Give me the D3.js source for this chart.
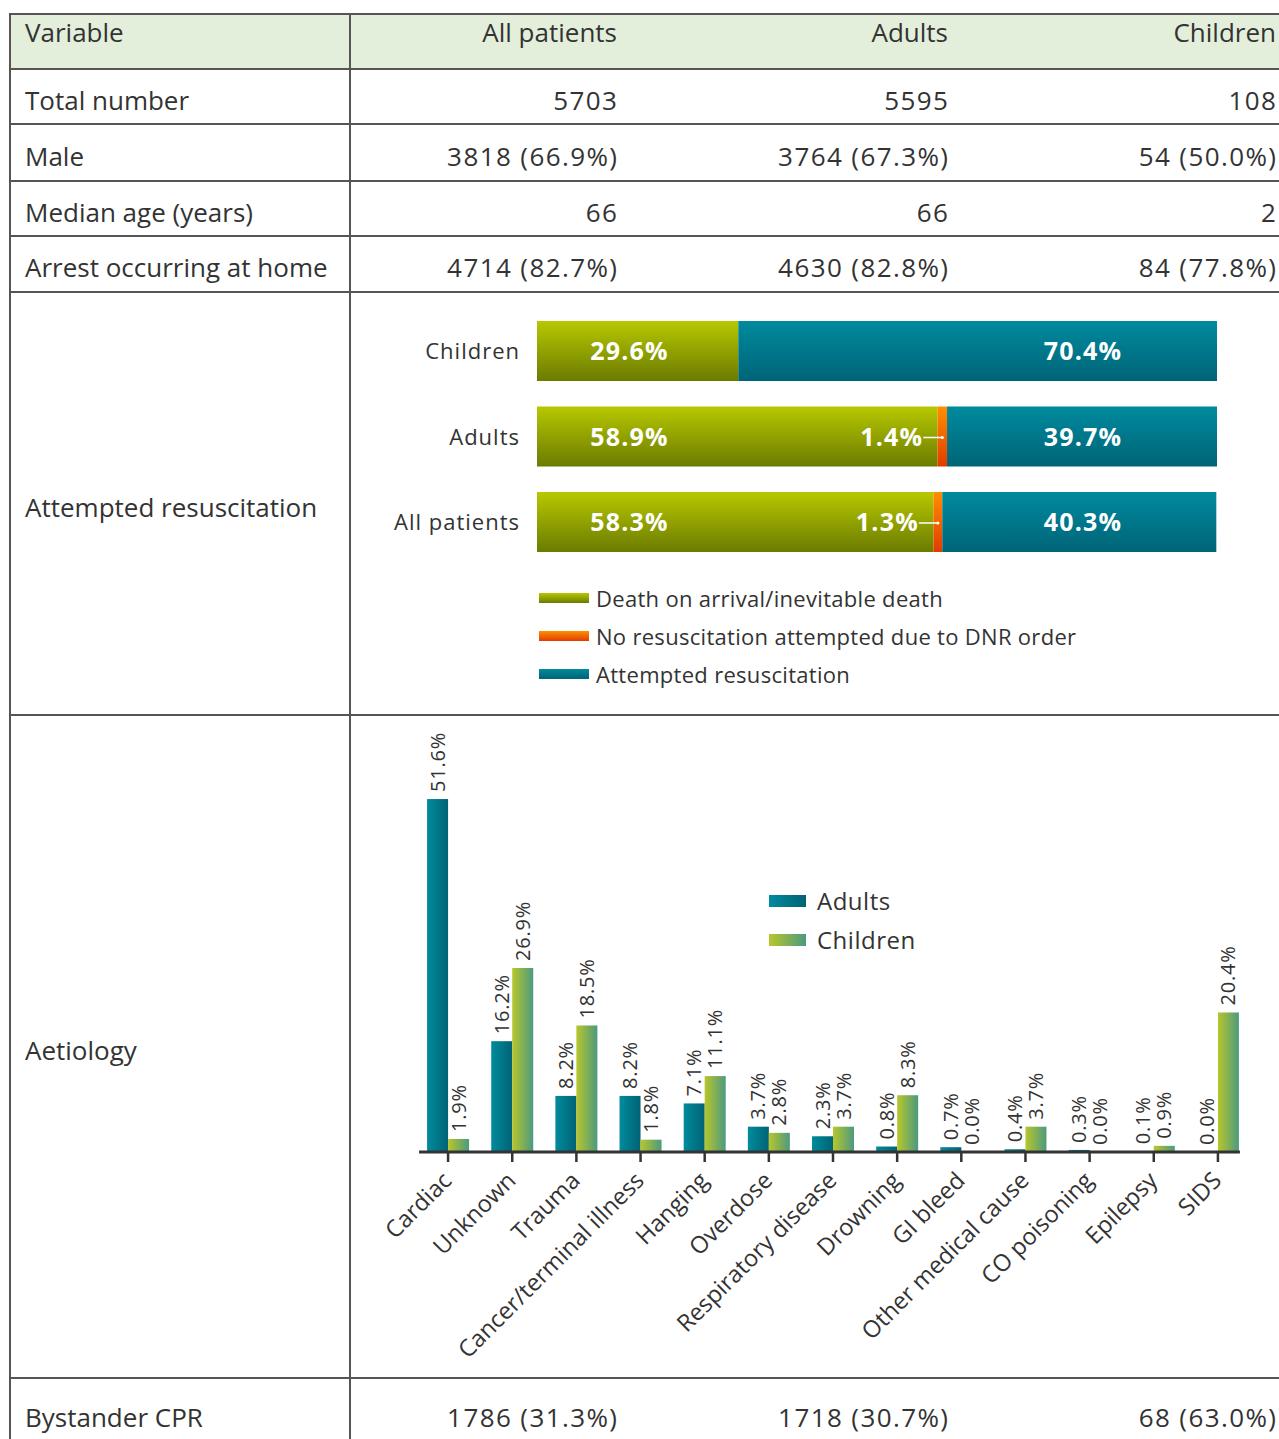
<!DOCTYPE html>
<html>
<head>
<meta charset="utf-8">
<script src="https://cdn.jsdelivr.net/npm/d3@7"></script>
<style>
  body { margin: 0; background: #fff; }
  svg { display: block; font-family: "Open Sans", "Noto Sans", sans-serif; }
</style>
</head>
<body>
<div id="chart"></div>
<script>
// table rows
const rowLabels = ["Total number", "Male", "Median age (years)", "Arrest occurring at home"];
const colHeaders = ["Variable", "All patients", "Adults", "Children"];
const allPatientsCol = ["5703", "3818 (66.9%)", "66", "4714 (82.7%)"];
const adultsCol = ["5595", "3764 (67.3%)", "66", "4630 (82.8%)"];
const childrenCol = ["108", "54 (50.0%)", "2", "84 (77.8%)"];
const cprRow = ["Bystander CPR", "1786 (31.3%)", "1718 (30.7%)", "68 (63.0%)"];

// attempted resuscitation (stacked)
const stackGroups = ["Children", "Adults", "All patients"];
const deathOnArrival = [29.6, 58.9, 58.3];
const dnrOrder = [0, 1.4, 1.3];
const attemptedResus = [70.4, 39.7, 40.3];
const stackKeys = ["Death on arrival/inevitable death", "No resuscitation attempted due to DNR order", "Attempted resuscitation"];

// aetiology
const causes = ["Cardiac", "Unknown", "Trauma", "Cancer/terminal illness", "Hanging", "Overdose",
  "Respiratory disease", "Drowning", "GI bleed", "Other medical cause", "CO poisoning", "Epilepsy", "SIDS"];
const adultPct = [51.6, 16.2, 8.2, 8.2, 7.1, 3.7, 2.3, 0.8, 0.7, 0.4, 0.3, 0.1, 0.0];
const childPct = [1.9, 26.9, 18.5, 1.8, 11.1, 2.8, 3.7, 8.3, 0.0, 3.7, 0.0, 0.9, 20.4];

const width = 1279, height = 1439;
const ink = "#333";
const lineCol = "#555";

const svg = d3.select("#chart").append("svg")
  .attr("width", width)
  .attr("height", height);

const defs = svg.append("defs");
function grad(id, x2, y2, c1, c2) {
  const g = defs.append("linearGradient").attr("id", id)
    .attr("x1", 0).attr("y1", 0).attr("x2", x2).attr("y2", y2);
  g.append("stop").attr("offset", "0%").attr("stop-color", c1);
  g.append("stop").attr("offset", "100%").attr("stop-color", c2);
}
grad("gGreen", 0, 1, "#b7c800", "#6b7b00");
grad("gOrange", 0, 1, "#ff8f00", "#e03c00");
grad("gTeal", 0, 1, "#008a9e", "#006477");
grad("hAdult", 1, 0, "#008b9d", "#006374");
grad("hChild", 1, 0, "#b8c62a", "#4b9a80");

// table skeleton
const tableLeft = 10, colDiv = 350;
const rowLines = [14, 69, 124, 181, 236, 292, 715, 1378];

svg.append("rect")
  .attr("x", tableLeft).attr("y", 14)
  .attr("width", width - tableLeft).attr("height", 55)
  .attr("fill", "#e3efdb");

svg.selectAll("line.row").data(rowLines).join("line")
  .attr("x1", tableLeft).attr("x2", width)
  .attr("y1", d => d).attr("y2", d => d)
  .attr("stroke", lineCol).attr("stroke-width", 2);

[tableLeft, colDiv].forEach(x => {
  svg.append("line")
    .attr("x1", x).attr("x2", x)
    .attr("y1", 13).attr("y2", height)
    .attr("stroke", lineCol).attr("stroke-width", 2);
});

const colRight = [617, 948, 1276];
const textSize = "26px";

function tableRow(cells, baseline, spacing) {
  svg.append("text")
    .attr("x", 25).attr("y", baseline)
    .attr("font-size", textSize).attr("fill", ink)
    .text(cells[0]);
  cells.slice(1).forEach((c, i) => {
    svg.append("text")
      .attr("x", colRight[i] + spacing).attr("y", baseline)
      .attr("text-anchor", "end")
      .attr("font-size", textSize).attr("letter-spacing", spacing + "px").attr("fill", ink)
      .text(c);
  });
}

tableRow(colHeaders, 42, 0);
const rowBase = [110, 166, 222, 277];
rowLabels.forEach((r, i) => {
  tableRow([r, allPatientsCol[i], adultsCol[i], childrenCol[i]], rowBase[i], 1.4);
});
tableRow(cprRow, 1427, 1.4);

svg.append("text").attr("x", 25).attr("y", 517)
  .attr("font-size", textSize).attr("fill", ink).text("Attempted resuscitation");
svg.append("text").attr("x", 25).attr("y", 1060)
  .attr("font-size", textSize).attr("fill", ink).text("Aetiology");

// ---- stacked bars: attempted resuscitation
const sx = d3.scaleLinear().domain([0, 100]).range([537, 1217]);
const sy = d3.scaleBand().domain(stackGroups).range([321, 552]).paddingInner(0.298).paddingOuter(0);
const stackFill = ["url(#gGreen)", "url(#gOrange)", "url(#gTeal)"];

const stackRows = stackGroups.map((g, i) => ({
  group: g, vals: [deathOnArrival[i], dnrOrder[i], attemptedResus[i]]
}));

stackRows.forEach(r => {
  let acc = 0;
  const y0 = sy(r.group), bh = sy.bandwidth();
  r.vals.forEach((v, k) => {
    if (v > 0) {
      svg.append("rect")
        .attr("x", sx(acc)).attr("y", y0)
        .attr("width", sx(acc + v) - sx(acc)).attr("height", bh)
        .attr("fill", stackFill[k]);
    }
    acc += v;
  });

  svg.append("text")
    .attr("x", 520).attr("y", y0 + bh / 2 + 8)
    .attr("text-anchor", "end")
    .attr("font-size", "22px").attr("letter-spacing", "1px")
    .attr("fill", ink).text(r.group);

  const mid = y0 + bh / 2 + 9;
  const lab = (x, anchor, v) => svg.append("text")
    .attr("x", x).attr("y", mid)
    .attr("text-anchor", anchor)
    .attr("font-size", "25px").attr("font-weight", "bold").attr("letter-spacing", "1.2px")
    .attr("fill", "#fff")
    .text(v.toFixed(1) + "%");
  lab(sx(13.6), "middle", r.vals[0]);
  lab(sx(80.3), "middle", r.vals[2]);

  if (r.vals[1] > 0) {
    const ox = sx(r.vals[0] + r.vals[1] / 2);
    const ly = y0 + bh / 2 + 1;
    svg.append("line")
      .attr("x1", ox - 19).attr("x2", ox)
      .attr("y1", ly).attr("y2", ly)
      .attr("stroke", "#fff").attr("stroke-width", 1.5);
    svg.append("circle").attr("cx", ox).attr("cy", ly).attr("r", 1.6).attr("fill", "#fff");
    lab(ox - 19, "end", r.vals[1]);
  }
});

const stackLegend = svg.append("g").attr("transform", "translate(539,598)");
stackKeys.forEach((k, i) => {
  const row = stackLegend.append("g").attr("transform", "translate(0," + i * 38 + ")");
  row.append("rect").attr("x", 0).attr("y", -5).attr("width", 50).attr("height", 10)
    .attr("fill", stackFill[i]);
  row.append("text").attr("x", 57).attr("y", 9)
    .attr("font-size", "22px").attr("letter-spacing", "0.3px").attr("fill", ink).text(k);
});

// ---- aetiology grouped bars
const x0 = d3.scaleBand().domain(causes).range([416, 1250]).padding(0);
const x1 = d3.scaleBand().domain(["Adults", "Children"]).range([-21, 21]).padding(0);
const y = d3.scaleLinear().domain([0, 55]).range([1152, 1152 - 55 * 6.84]);

const barData = causes.map((c, i) => ({ cause: c, Adults: adultPct[i], Children: childPct[i] }));

const groups = svg.append("g").selectAll("g").data(barData).join("g")
  .attr("transform", d => "translate(" + (x0(d.cause) + x0.bandwidth() / 2) + ",0)");

["Adults", "Children"].forEach(key => {
  groups.append("rect")
    .attr("x", x1(key))
    .attr("y", d => y(d[key]))
    .attr("width", x1.bandwidth())
    .attr("height", d => y(0) - y(d[key]))
    .attr("fill", key === "Adults" ? "url(#hAdult)" : "url(#hChild)");

  groups.append("text")
    .attr("transform", d => {
      const cx = x1(key) + x1.bandwidth() / 2;
      return "translate(" + cx + "," + (y(d[key]) - 7) + ") rotate(-90)";
    })
    .attr("dy", "0.35em")
    .attr("font-size", "20px").attr("letter-spacing", "0.8px")
    .attr("fill", ink)
    .text(d => d[key].toFixed(1) + "%");
});

const axis = svg.append("g")
  .attr("transform", "translate(0,1152)")
  .call(d3.axisBottom(x0).tickSize(10).tickSizeOuter(0).tickFormat(""));
const firstC = x0(causes[0]) + x0.bandwidth() / 2;
const lastC = x0(causes[causes.length - 1]) + x0.bandwidth() / 2;
axis.select(".domain")
  .attr("d", "M" + (firstC - 29) + ",0H" + (lastC + 22))
  .attr("stroke", ink).attr("stroke-width", 3);
axis.selectAll(".tick line").attr("stroke", ink).attr("stroke-width", 2.5);

// slanted category labels
causes.forEach(c => {
  const cx = x0(c) + x0.bandwidth() / 2;
  svg.append("text")
    .attr("transform", "translate(" + (cx + 5) + ",1182) rotate(-45)")
    .attr("text-anchor", "end")
    .attr("font-size", "23.5px").attr("fill", ink)
    .text(c);
});

const barLegend = svg.append("g").attr("transform", "translate(769,895)");
["Adults", "Children"].forEach((k, i) => {
  const row = barLegend.append("g").attr("transform", "translate(0," + i * 39 + ")");
  row.append("rect").attr("x", 0).attr("y", 0).attr("width", 37).attr("height", 12)
    .attr("fill", k === "Adults" ? "url(#hAdult)" : "url(#hChild)");
  row.append("text").attr("x", 48).attr("y", 15)
    .attr("font-size", "24px").attr("letter-spacing", "0.5px").attr("fill", ink).text(k);
});
</script>
</body>
</html>
